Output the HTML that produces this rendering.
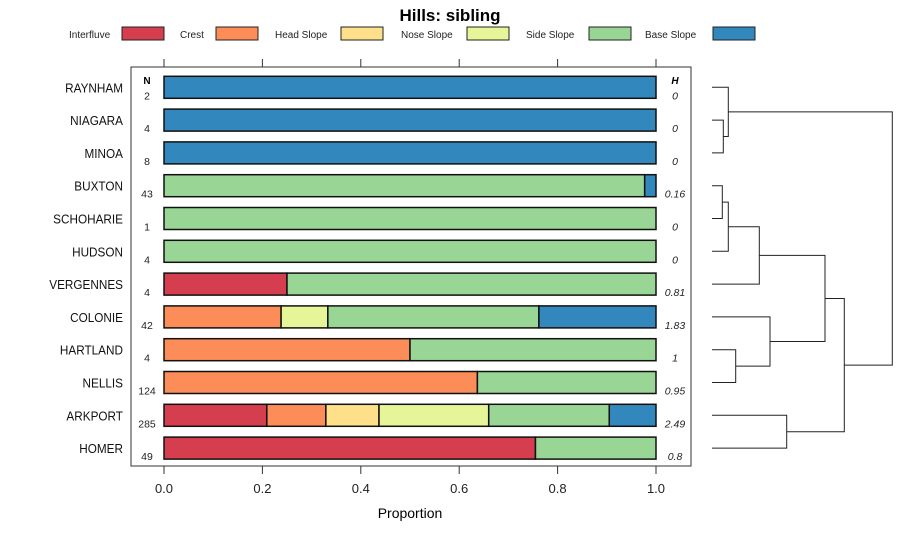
<!DOCTYPE html>
<html><head><meta charset="utf-8"><style>
body{margin:0;background:#fff;}
svg{display:block;font-family:"Liberation Sans",sans-serif;}
</style></head><body>
<svg id="c" width="900" height="540" xmlns="http://www.w3.org/2000/svg">
<text x="450" y="21" text-anchor="middle" font-size="17" font-weight="bold">Hills: sibling</text>
<g id="legend"></g>
<rect x="131" y="67" width="560" height="399" fill="none" stroke="#333" stroke-width="1"/>
<g id="axes"></g>
<g id="bars"></g>
<g id="dendro" stroke="#222" fill="none" stroke-width="1"></g>
<text x="410" y="518" text-anchor="middle" font-size="14">Proportion</text>
</svg>
<script>
const classes = ["Interfluve","Crest","Head Slope","Nose Slope","Side Slope","Base Slope"];
const colors = ["#D53E4F","#FC8D59","#FEE08B","#E6F598","#99D594","#3288BD"];
const soils = ["RAYNHAM","NIAGARA","MINOA","BUXTON","SCHOHARIE","HUDSON","VERGENNES","COLONIE","HARTLAND","NELLIS","ARKPORT","HOMER"];
const nVals = [2,4,8,43,1,4,4,42,4,124,285,49];
const hVals = ["0","0","0","0.16","0","0","0.81","1.83","1","0.95","2.49","0.8"];
const props = [
 [0,0,0,0,0,1],
 [0,0,0,0,0,1],
 [0,0,0,0,0,1],
 [0,0,0,0,0.977,0.023],
 [0,0,0,0,1,0],
 [0,0,0,0,1,0],
 [0.25,0,0,0,0.75,0],
 [0,0.238,0,0.095,0.429,0.238],
 [0,0.5,0,0,0.5,0],
 [0,0.637,0,0,0.363,0],
 [0.209,0.12,0.108,0.223,0.245,0.095],
 [0.755,0,0,0,0.245,0]
];
const xTicks = [0,0.2,0.4,0.6,0.8,1.0];
const xTickLabels = ["0.0","0.2","0.4","0.6","0.8","1.0"];

const NS="http://www.w3.org/2000/svg";
function mk(tag,attrs,parent){const e=document.createElementNS(NS,tag);for(const k in attrs)e.setAttribute(k,attrs[k]);parent.appendChild(e);return e;}
const X0=164,X1=656;
const xs=v=>X0+v*(X1-X0);
const ys=i=>87.3+i*32.8;

const legX=[[69,122],[180,216],[275,341],[401,467],[526,589],[645,713]];
const lg=document.getElementById('legend');
classes.forEach((c,i)=>{
  const t=mk('text',{x:legX[i][0],y:38,'font-size':10,fill:'#222'},lg);t.textContent=c;
  
  
  const r=mk('rect',{x:legX[i][1],y:27,width:42,height:13,fill:colors[i],stroke:'#222','stroke-width':1},lg);
  
  
});

const ax=document.getElementById('axes');
xTicks.forEach((v,i)=>{
  const x=xs(v);
  const a=mk('line',{x1:x,x2:x,y1:59,y2:67,stroke:'#333'},ax);
  
  
  const b=mk('line',{x1:x,x2:x,y1:466,y2:474,stroke:'#333'},ax);
  
  
  const t=mk('text',{x:x,y:493,'text-anchor':'middle','font-size':13,fill:'#222'},ax);
  t.textContent=xTickLabels[i];
  
  
});
let t=mk('text',{x:147,y:84,'text-anchor':'middle','font-size':10,'font-weight':'bold'},ax);t.textContent='N';


t=mk('text',{x:675,y:84,'text-anchor':'middle','font-size':10,'font-weight':'bold','font-style':'italic'},ax);t.textContent='H';



const bg=document.getElementById('bars');
soils.forEach((s,i)=>{
  const y=ys(i);
  const lab=mk('text',{x:123,y:y+5,'text-anchor':'end','font-size':12.5,fill:'#111',transform:`translate(${123*0.06},0) scale(0.94,1)`},bg);lab.textContent=s;
  
  
  const n=mk('text',{x:147,y:y+12,'text-anchor':'middle','font-size':10.5,fill:'#222'},bg);n.textContent=nVals[i];
  
  
  const h=mk('text',{x:675,y:y+12,'text-anchor':'middle','font-size':10.5,'font-style':'italic',fill:'#222'},bg);h.textContent=hVals[i];
  
  
  let cum=0;
  props[i].forEach((p,k)=>{
    if(p<=0)return;
    const r=mk('rect',{x:xs(cum),y:y-11,width:xs(cum+p)-xs(cum),height:22,fill:colors[k],stroke:'#111','stroke-width':1.5},bg);
    
    
    cum+=p;
  });
});

const dg=document.getElementById('dendro');
function br(y1,x1,y2,x2,xm){
  const p=mk('path',{d:`M${x1},${y1}H${xm}V${y2}H${x2}`},dg);
  
  
  return (y1+y2)/2;
}
const L=712;
const a=br(ys(1),L,ys(2),L,723.3);
const r1=br(ys(0),L,a,723.3,728.3);
const b=br(ys(3),L,ys(4),L,722.3);
const c=br(b,722.3,ys(5),L,728.3);
const d=br(c,728.3,ys(6),L,759.3);
const e=br(ys(8),L,ys(9),L,735.7);
const f=br(ys(7),L,e,735.7,770);
const g=br(d,759.3,f,770,825);
const h=br(ys(10),L,ys(11),L,786.7);
const k=br(g,825,h,786.7,844.3);
br(r1,728.3,k,844.3,892.3);
</script>
</body></html>
